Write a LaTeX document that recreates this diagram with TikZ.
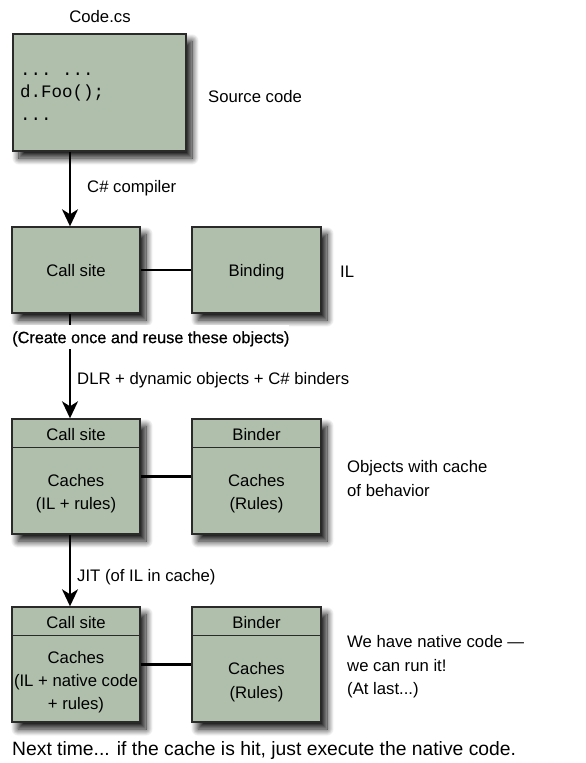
\documentclass[tikz,border=0pt]{standalone}
\usepackage{fontspec}
\setmainfont{Liberation Sans}
\setmonofont{Liberation Mono}
\newfontfamily\heavysans[FakeBold=0.6]{Liberation Sans}
\usetikzlibrary{arrows.meta,shadows.blur}
\definecolor{boxfill}{HTML}{AFBFAC}
\definecolor{boxline}{HTML}{2A2A2A}
\tikzset{
  box/.style={draw=boxline, line width=1.4pt, fill=boxfill, inner sep=0pt,
    blur shadow={shadow xshift=6pt, shadow yshift=-7pt, shadow blur radius=7pt,
      shadow blur steps=14, shadow opacity=95}},
  lbl/.style={font=\fontsize{16.7}{20}\selectfont, inner sep=0pt, text height=12.2pt, text depth=0pt},
  codetxt/.style={font=\ttfamily\fontsize{17.5}{20}\selectfont, inner sep=0pt},
  flow/.style={line width=2pt, -{Stealth[length=17pt,width=16pt,inset=5pt]}},
  link/.style={line width=2.2pt},
}
\begin{document}
\begin{tikzpicture}[x=1pt,y=-1pt]
\useasboundingbox (0,0) rectangle (586,763);

% boxes
\node[box, minimum width=173pt, minimum height=117pt] (code) at (99.5,92.5) {};
\node[box, minimum width=128pt, minimum height=86pt] (cs2) at (76,270) {};
\node[box, minimum width=129pt, minimum height=86pt] (bd2) at (256.5,270) {};
\node[box, minimum width=128pt, minimum height=115pt] (cs3) at (76,476.5) {};
\node[box, minimum width=129pt, minimum height=115pt] (bd3) at (256.5,476.5) {};
\node[box, minimum width=128pt, minimum height=115pt] (cs4) at (76,664.5) {};
\node[box, minimum width=129pt, minimum height=115pt] (bd4) at (256.5,664.5) {};

% header lines
\foreach \b in {cs3,bd3,cs4,bd4}
  \draw[draw=boxline, line width=1.4pt] ([yshift=-29pt]\b.north west) -- ([yshift=-29pt]\b.north east);

% texts
\node[lbl] (codecs) at (100,16.5) {Code.cs};
\node[codetxt, anchor=base west] (c1) at (20,75) {... ...};
\node[codetxt, anchor=base west] (c2) at (20,97) {d.Foo();};
\node[codetxt, anchor=base west] (c3) at (20,120) {...};
\node[lbl, anchor=west] (src) at (208,96) {Source code};

\node[lbl] (cs2t) at (cs2) {Call site};
\node[lbl] (bd2t) at (bd2) {Binding};
\node[lbl, anchor=west] (il) at (340,271) {IL};

\node[lbl] (cs3h) at (76,434) {Call site};
\node[lbl] (bd3h) at (256.5,434) {Binder};
\node[lbl] (cs3a) at (76,480) {Caches};
\node[lbl] (cs3b) at (76,503) {(IL + rules)};
\node[lbl] (bd3a) at (256.5,480) {Caches};
\node[lbl] (bd3b) at (256.5,503) {(Rules)};
\node[lbl, anchor=west] (ob1) at (347,466) {Objects with cache};
\node[lbl, anchor=west] (ob2) at (347,490) {of behavior};

\node[lbl] (cs4h) at (76,622) {Call site};
\node[lbl] (bd4h) at (256.5,622) {Binder};
\node[lbl] (cs4a) at (76,657) {Caches};
\node[lbl] (cs4b) at (76,680) {(IL + native code};
\node[lbl] (cs4c) at (76,703) {+ rules)};
\node[lbl] (bd4a) at (256.5,668) {Caches};
\node[lbl] (bd4b) at (256.5,692) {(Rules)};
\node[lbl, anchor=west] (nt1) at (347,641) {We have native code —};
\node[lbl, anchor=west] (nt2) at (347,665) {we can run it!};
\node[lbl, anchor=west] (nt3) at (347,688) {(At last...)};

\node[lbl, anchor=west, font=\fontsize{19.3}{22}\selectfont, text height=13.8pt] (next) at (12,749) {Next time... if the cache is hit, just execute the native code.};

% connectors
\draw[flow] ([xshift=-29.5pt]code.south) -- ([xshift=-6pt]cs2.north);
\node[lbl, anchor=west] (ccomp) at (87,186) {C\# compiler};

\draw[flow] ([xshift=-6pt]cs2.south) -- ([xshift=-6pt]cs3.north);
\node[lbl, anchor=west, fill=white, inner ysep=6pt, font=\heavysans\fontsize{16.3}{20}\selectfont] (reuse) at (12,337) {(Create once and reuse these objects)};
\node[lbl, anchor=west] (dlr) at (77,378) {DLR + dynamic objects + C\# binders};

\draw[flow] ([xshift=-6pt]cs3.south) -- ([xshift=-6pt]cs4.north);
\node[lbl, anchor=west] (jit) at (77,575) {JIT (of IL in cache)};

\draw[link] (cs2.east) -- (bd2.west);
\draw[link] (cs3.east) -- (bd3.west);
\draw[link] (cs4.east) -- (bd4.west);
\end{tikzpicture}
\end{document}
